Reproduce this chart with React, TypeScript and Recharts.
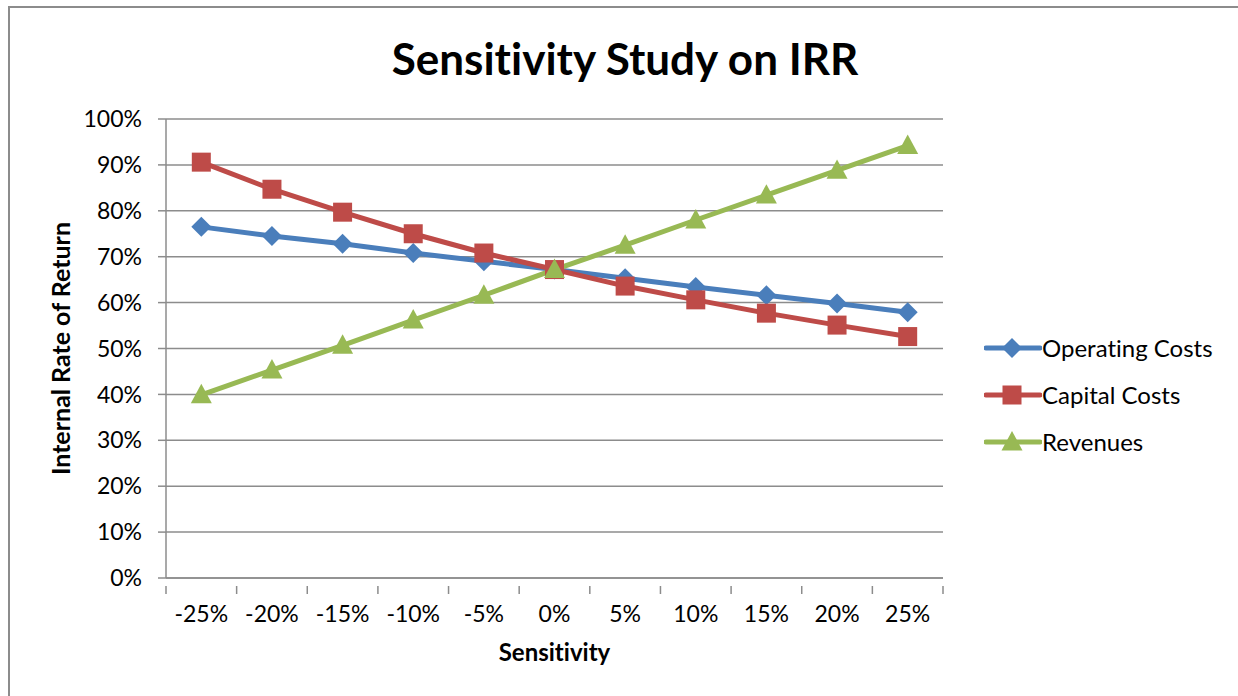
import { CartesianGrid, Legend, Line, LineChart, XAxis, YAxis } from "recharts";

const sensitivity = [-25, -20, -15, -10, -5, 0, 5, 10, 15, 20, 25];
const operatingCosts = [76.5, 74.5, 72.8, 70.8, 69.0, 67.2, 65.3, 63.4, 61.6, 59.8, 57.9];
const capitalCosts = [90.6, 84.7, 79.7, 75.0, 70.8, 67.2, 63.6, 60.6, 57.7, 55.1, 52.6];
const revenues = [39.9, 45.3, 50.7, 56.2, 61.6, 67.2, 72.5, 78.0, 83.4, 88.8, 94.2];

const xTicks = [-27.5, -25, -22.5, -20, -17.5, -15, -12.5, -10, -7.5, -5, -2.5, 0, 2.5, 5, 7.5, 10, 12.5, 15, 17.5, 20, 22.5, 25, 27.5];
const yTicks = [0, 10, 20, 30, 40, 50, 60, 70, 80, 90, 100];

const data = sensitivity.map((s, i) => ({
  s,
  operating: operatingCosts[i],
  capital: capitalCosts[i],
  revenues: revenues[i],
}));

const FONT = "Lato, 'Open Sans', sans-serif";
const BLUE = "#4a7ebb";
const RED = "#be4b48";
const GREEN = "#98b954";
const GRID = "#8c8c8c";
const noLig = { fontVariantLigatures: "none" } as const;

function Diamond({ cx, cy, color, r = 10 }: any) {
  return <polygon points={`${cx},${cy - r} ${cx + r},${cy} ${cx},${cy + r} ${cx - r},${cy}`} fill={color} />;
}
function Square({ cx, cy, color, r = 9.5 }: any) {
  return <rect x={cx - r} y={cy - r} width={r * 2} height={r * 2} fill={color} />;
}
function Triangle({ cx, cy, color, r = 10.5 }: any) {
  return <polygon points={`${cx},${cy - r * 1.05} ${cx + r},${cy + r * 0.8} ${cx - r},${cy + r * 0.8}`} fill={color} />;
}

function XTick({ x, y, payload }: any) {
  const v = payload.value;
  if (v % 5 !== 0) {
    return <line x1={x} y1={y} x2={x} y2={y + 8} stroke={GRID} strokeWidth={1.5} />;
  }
  return (
    <text x={x} y={y + 36} textAnchor="middle" fontFamily={FONT} fontSize={23} fill="#000">
      {`${v}%`}
    </text>
  );
}

function YLabel({ viewBox }: any) {
  const cy = viewBox.y + viewBox.height / 2;
  return (
    <text x={60} y={cy} transform={`rotate(-90, 60, ${cy})`} textAnchor="middle" dominantBaseline="central" fontFamily={FONT} fontSize={25} fontWeight={700} fill="#000" style={noLig}>
      Internal Rate of Return
    </text>
  );
}

function XLabel({ viewBox }: any) {
  const cx = viewBox.x + viewBox.width / 2;
  return (
    <text x={cx} y={661} textAnchor="middle" fontFamily={FONT} fontSize={24} fontWeight={700} fill="#000" style={noLig}>
      Sensitivity
    </text>
  );
}

const legendItems = [
  { name: "Operating Costs", color: BLUE, Marker: Diamond },
  { name: "Capital Costs", color: RED, Marker: Square },
  { name: "Revenues", color: GREEN, Marker: Triangle },
];

function LegendContent() {
  return (
    <div style={{ fontFamily: FONT, fontSize: 24, color: "#000", textAlign: "left", ...noLig }}>
      {legendItems.map(({ name, color, Marker }) => (
        <div key={name} style={{ display: "flex", alignItems: "center", height: 47 }}>
          <svg width={58} height={24}>
            <line x1={2} y1={12} x2={56} y2={12} stroke={color} strokeWidth={5} strokeLinecap="round" />
            <Marker cx={28} cy={12} color={color} />
          </svg>
          <span>{name}</span>
        </div>
      ))}
    </div>
  );
}

export default function App() {
  return (
    <div style={{ position: "fixed", left: 0, top: 0, width: 1238, height: 696, background: "#fff", overflow: "hidden" }}>
      <div style={{ position: "absolute", left: 8, top: 6, right: -10, bottom: -10, borderTop: `2px solid ${GRID}`, borderLeft: `2px solid ${GRID}` }} />
      <div style={{ position: "absolute", left: 0, top: 31, width: 1250, textAlign: "center", fontFamily: FONT, fontWeight: 700, fontSize: 44, color: "#000", lineHeight: "54px", ...noLig }}>
        Sensitivity Study on IRR
      </div>
      <div style={{ position: "absolute", left: 0, top: 0 }}>
        <LineChart width={1238} height={696} data={data} margin={{ top: 119, right: 295, bottom: 28, left: 0 }}>
          <CartesianGrid vertical={false} stroke={GRID} strokeWidth={1.5} />
          <XAxis
            dataKey="s"
            type="number"
            domain={[-27.5, 27.5]}
            ticks={xTicks}
            interval={0}
            tick={<XTick />}
            tickLine={false}
            axisLine={{ stroke: GRID, strokeWidth: 1.5 }}
            height={90}
            label={<XLabel />}
          />
          <YAxis
            type="number"
            domain={[0, 100]}
            ticks={yTicks}
            interval={0}
            width={166}
            tickFormatter={(v: number) => `${v}%`}
            tick={{ fill: "#000", fontSize: 23, fontFamily: FONT }}
            tickSize={8}
            tickMargin={16}
            tickLine={{ stroke: GRID, strokeWidth: 1.5 }}
            axisLine={{ stroke: GRID, strokeWidth: 1.5 }}
            label={<YLabel />}
          />
          <Legend layout="vertical" align="center" verticalAlign="middle" content={<LegendContent />} wrapperStyle={{ position: "absolute", left: 984, top: 324, width: 250 }} />
          <Line dataKey="operating" stroke={BLUE} strokeWidth={5} isAnimationActive={false} dot={(p: any) => <Diamond key={`o${p.index}`} cx={p.cx} cy={p.cy} color={BLUE} />} activeDot={false} />
          <Line dataKey="capital" stroke={RED} strokeWidth={5} isAnimationActive={false} dot={(p: any) => <Square key={`c${p.index}`} cx={p.cx} cy={p.cy} color={RED} />} activeDot={false} />
          <Line dataKey="revenues" stroke={GREEN} strokeWidth={5} isAnimationActive={false} dot={(p: any) => <Triangle key={`r${p.index}`} cx={p.cx} cy={p.cy} color={GREEN} />} activeDot={false} />
        </LineChart>
      </div>
    </div>
  );
}
